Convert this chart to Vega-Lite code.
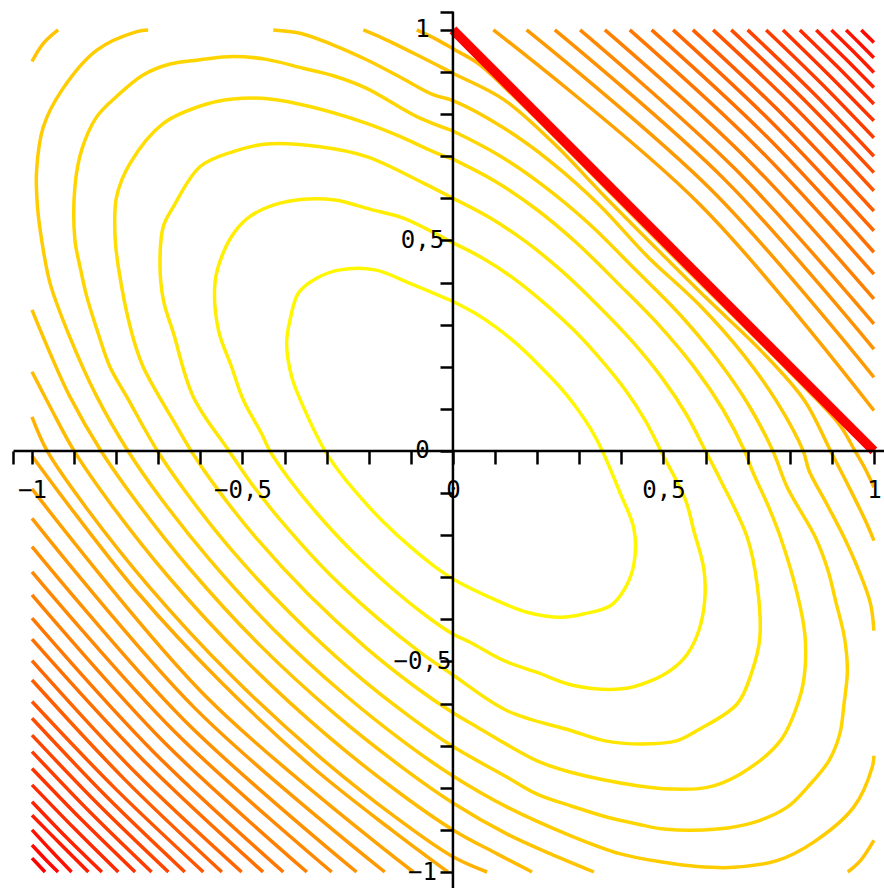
{
"$schema":"https://vega.github.io/schema/vega-lite/v6.json",
"width":884,"height":888,"padding":0,"autosize":{"type":"none"},
"background":"white",
"config":{"view":{"stroke":null}},
"datasets":{
"c":[
{"id":"A","lvl":1,"x":0,"y":0.355},{"id":"A","lvl":1,"x":-0.102,"y":0.398},{"id":"A","lvl":1,"x":-0.185,"y":0.43},{"id":"A","lvl":1,"x":-0.268,"y":0.43},{"id":"A","lvl":1,"x":-0.324,"y":0.41},{"id":"A","lvl":1,"x":-0.367,"y":0.375},{"id":"A","lvl":1,"x":-0.387,"y":0.311},{"id":"A","lvl":1,"x":-0.395,"y":0.256},{"id":"A","lvl":1,"x":-0.383,"y":0.176},{"id":"A","lvl":1,"x":-0.359,"y":0.113},{"id":"A","lvl":1,"x":-0.304,"y":0},{"id":"A","lvl":1,"x":-0.274,"y":-0.044},{"id":"A","lvl":1,"x":-0.228,"y":-0.101},{"id":"A","lvl":1,"x":-0.167,"y":-0.167},{"id":"A","lvl":1,"x":-0.101,"y":-0.228},{"id":"A","lvl":1,"x":-0.044,"y":-0.274},{"id":"A","lvl":1,"x":0,"y":-0.304},{"id":"A","lvl":1,"x":0.113,"y":-0.359},{"id":"A","lvl":1,"x":0.176,"y":-0.383},{"id":"A","lvl":1,"x":0.256,"y":-0.395},{"id":"A","lvl":1,"x":0.311,"y":-0.387},{"id":"A","lvl":1,"x":0.375,"y":-0.367},{"id":"A","lvl":1,"x":0.41,"y":-0.324},{"id":"A","lvl":1,"x":0.43,"y":-0.268},{"id":"A","lvl":1,"x":0.43,"y":-0.185},{"id":"A","lvl":1,"x":0.398,"y":-0.102},{"id":"A","lvl":1,"x":0.355,"y":0},{"id":"A","lvl":1,"x":0.328,"y":0.051},{"id":"A","lvl":1,"x":0.294,"y":0.102},{"id":"A","lvl":1,"x":0.253,"y":0.153},{"id":"A","lvl":1,"x":0.204,"y":0.204},{"id":"A","lvl":1,"x":0.153,"y":0.253},{"id":"A","lvl":1,"x":0.102,"y":0.294},{"id":"A","lvl":1,"x":0.051,"y":0.328},{"id":"A","lvl":1,"x":0,"y":0.355},
{"id":"B","lvl":2,"x":0,"y":0.494},{"id":"B","lvl":2,"x":-0.118,"y":0.553},{"id":"B","lvl":2,"x":-0.189,"y":0.572},{"id":"B","lvl":2,"x":-0.28,"y":0.596},{"id":"B","lvl":2,"x":-0.356,"y":0.598},{"id":"B","lvl":2,"x":-0.427,"y":0.584},{"id":"B","lvl":2,"x":-0.482,"y":0.557},{"id":"B","lvl":2,"x":-0.518,"y":0.521},{"id":"B","lvl":2,"x":-0.546,"y":0.47},{"id":"B","lvl":2,"x":-0.565,"y":0.402},{"id":"B","lvl":2,"x":-0.557,"y":0.287},{"id":"B","lvl":2,"x":-0.526,"y":0.2},{"id":"B","lvl":2,"x":-0.498,"y":0.121},{"id":"B","lvl":2,"x":-0.455,"y":0.042},{"id":"B","lvl":2,"x":-0.435,"y":0},{"id":"B","lvl":2,"x":-0.392,"y":-0.063},{"id":"B","lvl":2,"x":-0.326,"y":-0.145},{"id":"B","lvl":2,"x":-0.239,"y":-0.239},{"id":"B","lvl":2,"x":-0.145,"y":-0.326},{"id":"B","lvl":2,"x":-0.063,"y":-0.392},{"id":"B","lvl":2,"x":0,"y":-0.435},{"id":"B","lvl":2,"x":0.042,"y":-0.455},{"id":"B","lvl":2,"x":0.121,"y":-0.498},{"id":"B","lvl":2,"x":0.2,"y":-0.526},{"id":"B","lvl":2,"x":0.287,"y":-0.557},{"id":"B","lvl":2,"x":0.402,"y":-0.565},{"id":"B","lvl":2,"x":0.47,"y":-0.546},{"id":"B","lvl":2,"x":0.521,"y":-0.518},{"id":"B","lvl":2,"x":0.557,"y":-0.482},{"id":"B","lvl":2,"x":0.584,"y":-0.427},{"id":"B","lvl":2,"x":0.598,"y":-0.356},{"id":"B","lvl":2,"x":0.596,"y":-0.28},{"id":"B","lvl":2,"x":0.572,"y":-0.189},{"id":"B","lvl":2,"x":0.553,"y":-0.118},{"id":"B","lvl":2,"x":0.494,"y":0},{"id":"B","lvl":2,"x":0.457,"y":0.072},{"id":"B","lvl":2,"x":0.41,"y":0.144},{"id":"B","lvl":2,"x":0.353,"y":0.215},{"id":"B","lvl":2,"x":0.287,"y":0.287},{"id":"B","lvl":2,"x":0.215,"y":0.353},{"id":"B","lvl":2,"x":0.144,"y":0.41},{"id":"B","lvl":2,"x":0.072,"y":0.457},{"id":"B","lvl":2,"x":0,"y":0.494},
{"id":"C","lvl":3,"x":0,"y":0.6},{"id":"C","lvl":3,"x":-0.07,"y":0.636},{"id":"C","lvl":3,"x":-0.205,"y":0.699},{"id":"C","lvl":3,"x":-0.32,"y":0.723},{"id":"C","lvl":3,"x":-0.443,"y":0.729},{"id":"C","lvl":3,"x":-0.522,"y":0.711},{"id":"C","lvl":3,"x":-0.601,"y":0.675},{"id":"C","lvl":3,"x":-0.664,"y":0.58},{"id":"C","lvl":3,"x":-0.688,"y":0.533},{"id":"C","lvl":3,"x":-0.696,"y":0.446},{"id":"C","lvl":3,"x":-0.688,"y":0.359},{"id":"C","lvl":3,"x":-0.664,"y":0.28},{"id":"C","lvl":3,"x":-0.617,"y":0.129},{"id":"C","lvl":3,"x":-0.532,"y":0},{"id":"C","lvl":3,"x":-0.479,"y":-0.077},{"id":"C","lvl":3,"x":-0.399,"y":-0.177},{"id":"C","lvl":3,"x":-0.293,"y":-0.293},{"id":"C","lvl":3,"x":-0.177,"y":-0.399},{"id":"C","lvl":3,"x":-0.077,"y":-0.479},{"id":"C","lvl":3,"x":0,"y":-0.532},{"id":"C","lvl":3,"x":0.129,"y":-0.617},{"id":"C","lvl":3,"x":0.28,"y":-0.664},{"id":"C","lvl":3,"x":0.359,"y":-0.688},{"id":"C","lvl":3,"x":0.446,"y":-0.696},{"id":"C","lvl":3,"x":0.533,"y":-0.688},{"id":"C","lvl":3,"x":0.58,"y":-0.664},{"id":"C","lvl":3,"x":0.675,"y":-0.601},{"id":"C","lvl":3,"x":0.711,"y":-0.522},{"id":"C","lvl":3,"x":0.729,"y":-0.443},{"id":"C","lvl":3,"x":0.723,"y":-0.32},{"id":"C","lvl":3,"x":0.699,"y":-0.205},{"id":"C","lvl":3,"x":0.636,"y":-0.07},{"id":"C","lvl":3,"x":0.6,"y":0},{"id":"C","lvl":3,"x":0.555,"y":0.086},{"id":"C","lvl":3,"x":0.497,"y":0.173},{"id":"C","lvl":3,"x":0.427,"y":0.259},{"id":"C","lvl":3,"x":0.345,"y":0.345},{"id":"C","lvl":3,"x":0.259,"y":0.427},{"id":"C","lvl":3,"x":0.173,"y":0.497},{"id":"C","lvl":3,"x":0.086,"y":0.555},{"id":"C","lvl":3,"x":0,"y":0.6},
{"id":"D","lvl":4,"x":0,"y":0.693},{"id":"D","lvl":4,"x":-0.047,"y":0.711},{"id":"D","lvl":4,"x":-0.126,"y":0.747},{"id":"D","lvl":4,"x":-0.205,"y":0.778},{"id":"D","lvl":4,"x":-0.34,"y":0.818},{"id":"D","lvl":4,"x":-0.435,"y":0.836},{"id":"D","lvl":4,"x":-0.522,"y":0.836},{"id":"D","lvl":4,"x":-0.585,"y":0.824},{"id":"D","lvl":4,"x":-0.688,"y":0.778},{"id":"D","lvl":4,"x":-0.767,"y":0.683},{"id":"D","lvl":4,"x":-0.799,"y":0.604},{"id":"D","lvl":4,"x":-0.803,"y":0.517},{"id":"D","lvl":4,"x":-0.795,"y":0.438},{"id":"D","lvl":4,"x":-0.763,"y":0.28},{"id":"D","lvl":4,"x":-0.736,"y":0.2},{"id":"D","lvl":4,"x":-0.656,"y":0.058},{"id":"D","lvl":4,"x":-0.622,"y":0},{"id":"D","lvl":4,"x":-0.56,"y":-0.09},{"id":"D","lvl":4,"x":-0.467,"y":-0.207},{"id":"D","lvl":4,"x":-0.342,"y":-0.342},{"id":"D","lvl":4,"x":-0.207,"y":-0.467},{"id":"D","lvl":4,"x":-0.09,"y":-0.56},{"id":"D","lvl":4,"x":0,"y":-0.622},{"id":"D","lvl":4,"x":0.058,"y":-0.656},{"id":"D","lvl":4,"x":0.2,"y":-0.736},{"id":"D","lvl":4,"x":0.28,"y":-0.763},{"id":"D","lvl":4,"x":0.438,"y":-0.795},{"id":"D","lvl":4,"x":0.517,"y":-0.803},{"id":"D","lvl":4,"x":0.604,"y":-0.799},{"id":"D","lvl":4,"x":0.683,"y":-0.767},{"id":"D","lvl":4,"x":0.778,"y":-0.688},{"id":"D","lvl":4,"x":0.824,"y":-0.585},{"id":"D","lvl":4,"x":0.836,"y":-0.522},{"id":"D","lvl":4,"x":0.836,"y":-0.435},{"id":"D","lvl":4,"x":0.818,"y":-0.34},{"id":"D","lvl":4,"x":0.778,"y":-0.205},{"id":"D","lvl":4,"x":0.747,"y":-0.126},{"id":"D","lvl":4,"x":0.711,"y":-0.047},{"id":"D","lvl":4,"x":0.693,"y":0},{"id":"D","lvl":4,"x":0.641,"y":0.099},{"id":"D","lvl":4,"x":0.574,"y":0.198},{"id":"D","lvl":4,"x":0.492,"y":0.296},{"id":"D","lvl":4,"x":0.395,"y":0.395},{"id":"D","lvl":4,"x":0.296,"y":0.492},{"id":"D","lvl":4,"x":0.198,"y":0.574},{"id":"D","lvl":4,"x":0.099,"y":0.641},{"id":"D","lvl":4,"x":0,"y":0.693},
{"id":"E","lvl":5,"x":0,"y":0.76},{"id":"E","lvl":5,"x":-0.086,"y":0.794},{"id":"E","lvl":5,"x":-0.205,"y":0.861},{"id":"E","lvl":5,"x":-0.284,"y":0.891},{"id":"E","lvl":5,"x":-0.356,"y":0.909},{"id":"E","lvl":5,"x":-0.443,"y":0.93},{"id":"E","lvl":5,"x":-0.522,"y":0.937},{"id":"E","lvl":5,"x":-0.601,"y":0.929},{"id":"E","lvl":5,"x":-0.672,"y":0.919},{"id":"E","lvl":5,"x":-0.736,"y":0.893},{"id":"E","lvl":5,"x":-0.799,"y":0.842},{"id":"E","lvl":5,"x":-0.846,"y":0.794},{"id":"E","lvl":5,"x":-0.882,"y":0.715},{"id":"E","lvl":5,"x":-0.898,"y":0.628},{"id":"E","lvl":5,"x":-0.898,"y":0.501},{"id":"E","lvl":5,"x":-0.886,"y":0.438},{"id":"E","lvl":5,"x":-0.87,"y":0.367},{"id":"E","lvl":5,"x":-0.843,"y":0.28},{"id":"E","lvl":5,"x":-0.815,"y":0.2},{"id":"E","lvl":5,"x":-0.775,"y":0.129},{"id":"E","lvl":5,"x":-0.702,"y":0},{"id":"E","lvl":5,"x":-0.632,"y":-0.101},{"id":"E","lvl":5,"x":-0.527,"y":-0.234},{"id":"E","lvl":5,"x":-0.386,"y":-0.386},{"id":"E","lvl":5,"x":-0.234,"y":-0.527},{"id":"E","lvl":5,"x":-0.101,"y":-0.632},{"id":"E","lvl":5,"x":0,"y":-0.702},{"id":"E","lvl":5,"x":0.129,"y":-0.775},{"id":"E","lvl":5,"x":0.2,"y":-0.815},{"id":"E","lvl":5,"x":0.28,"y":-0.843},{"id":"E","lvl":5,"x":0.367,"y":-0.87},{"id":"E","lvl":5,"x":0.438,"y":-0.886},{"id":"E","lvl":5,"x":0.501,"y":-0.898},{"id":"E","lvl":5,"x":0.628,"y":-0.898},{"id":"E","lvl":5,"x":0.715,"y":-0.882},{"id":"E","lvl":5,"x":0.794,"y":-0.846},{"id":"E","lvl":5,"x":0.842,"y":-0.799},{"id":"E","lvl":5,"x":0.893,"y":-0.736},{"id":"E","lvl":5,"x":0.919,"y":-0.672},{"id":"E","lvl":5,"x":0.929,"y":-0.601},{"id":"E","lvl":5,"x":0.937,"y":-0.522},{"id":"E","lvl":5,"x":0.93,"y":-0.443},{"id":"E","lvl":5,"x":0.909,"y":-0.356},{"id":"E","lvl":5,"x":0.891,"y":-0.284},{"id":"E","lvl":5,"x":0.861,"y":-0.205},{"id":"E","lvl":5,"x":0.794,"y":-0.086},{"id":"E","lvl":5,"x":0.76,"y":0},{"id":"E","lvl":5,"x":0.703,"y":0.108},{"id":"E","lvl":5,"x":0.629,"y":0.216},{"id":"E","lvl":5,"x":0.539,"y":0.324},{"id":"E","lvl":5,"x":0.432,"y":0.432},{"id":"E","lvl":5,"x":0.324,"y":0.539},{"id":"E","lvl":5,"x":0.216,"y":0.629},{"id":"E","lvl":5,"x":0.108,"y":0.703},{"id":"E","lvl":5,"x":0,"y":0.76},
{"id":"F1","lvl":6,"x":-0.427,"y":1},{"id":"F1","lvl":6,"x":-0.363,"y":0.992},{"id":"F1","lvl":6,"x":-0.284,"y":0.964},{"id":"F1","lvl":6,"x":-0.205,"y":0.929},{"id":"F1","lvl":6,"x":-0.126,"y":0.888},{"id":"F1","lvl":6,"x":-0.047,"y":0.846},{"id":"F1","lvl":6,"x":0,"y":0.832},{"id":"F1","lvl":6,"x":0.116,"y":0.77},{"id":"F1","lvl":6,"x":0.231,"y":0.688},{"id":"F1","lvl":6,"x":0.347,"y":0.585},{"id":"F1","lvl":6,"x":0.462,"y":0.462},{"id":"F1","lvl":6,"x":0.585,"y":0.347},{"id":"F1","lvl":6,"x":0.688,"y":0.231},{"id":"F1","lvl":6,"x":0.77,"y":0.116},{"id":"F1","lvl":6,"x":0.832,"y":0},{"id":"F1","lvl":6,"x":0.846,"y":-0.047},{"id":"F1","lvl":6,"x":0.888,"y":-0.126},{"id":"F1","lvl":6,"x":0.929,"y":-0.205},{"id":"F1","lvl":6,"x":0.964,"y":-0.284},{"id":"F1","lvl":6,"x":0.992,"y":-0.363},{"id":"F1","lvl":6,"x":1,"y":-0.427},
{"id":"F2","lvl":6,"x":-0.724,"y":1},{"id":"F2","lvl":6,"x":-0.751,"y":0.996},{"id":"F2","lvl":6,"x":-0.846,"y":0.952},{"id":"F2","lvl":6,"x":-0.929,"y":0.857},{"id":"F2","lvl":6,"x":-0.973,"y":0.77},{"id":"F2","lvl":6,"x":-0.989,"y":0.667},{"id":"F2","lvl":6,"x":-0.987,"y":0.58},{"id":"F2","lvl":6,"x":-0.977,"y":0.501},{"id":"F2","lvl":6,"x":-0.957,"y":0.398},{"id":"F2","lvl":6,"x":-0.914,"y":0.28},{"id":"F2","lvl":6,"x":-0.846,"y":0.129},{"id":"F2","lvl":6,"x":-0.772,"y":0},{"id":"F2","lvl":6,"x":-0.695,"y":-0.111},{"id":"F2","lvl":6,"x":-0.579,"y":-0.257},{"id":"F2","lvl":6,"x":-0.425,"y":-0.425},{"id":"F2","lvl":6,"x":-0.257,"y":-0.579},{"id":"F2","lvl":6,"x":-0.111,"y":-0.695},{"id":"F2","lvl":6,"x":0,"y":-0.772},{"id":"F2","lvl":6,"x":0.129,"y":-0.846},{"id":"F2","lvl":6,"x":0.28,"y":-0.914},{"id":"F2","lvl":6,"x":0.398,"y":-0.957},{"id":"F2","lvl":6,"x":0.501,"y":-0.977},{"id":"F2","lvl":6,"x":0.58,"y":-0.987},{"id":"F2","lvl":6,"x":0.667,"y":-0.989},{"id":"F2","lvl":6,"x":0.77,"y":-0.973},{"id":"F2","lvl":6,"x":0.857,"y":-0.929},{"id":"F2","lvl":6,"x":0.952,"y":-0.846},{"id":"F2","lvl":6,"x":0.996,"y":-0.751},{"id":"F2","lvl":6,"x":1,"y":-0.724},
{"id":"G1","lvl":7,"x":-0.213,"y":1},{"id":"G1","lvl":7,"x":-0.166,"y":0.98},{"id":"G1","lvl":7,"x":-0.086,"y":0.941},{"id":"G1","lvl":7,"x":0,"y":0.897},{"id":"G1","lvl":7,"x":0.12,"y":0.835},{"id":"G1","lvl":7,"x":0.24,"y":0.73},{"id":"G1","lvl":7,"x":0.36,"y":0.605},{"id":"G1","lvl":7,"x":0.482,"y":0.482},{"id":"G1","lvl":7,"x":0.605,"y":0.36},{"id":"G1","lvl":7,"x":0.73,"y":0.24},{"id":"G1","lvl":7,"x":0.835,"y":0.12},{"id":"G1","lvl":7,"x":0.897,"y":0},{"id":"G1","lvl":7,"x":0.941,"y":-0.086},{"id":"G1","lvl":7,"x":0.98,"y":-0.166},{"id":"G1","lvl":7,"x":1,"y":-0.213},
{"id":"G2","lvl":7,"x":-0.938,"y":1},{"id":"G2","lvl":7,"x":-0.973,"y":0.968},{"id":"G2","lvl":7,"x":-1,"y":0.925},
{"id":"G3","lvl":7,"x":-1,"y":0.335},{"id":"G3","lvl":7,"x":-0.957,"y":0.232},{"id":"G3","lvl":7,"x":-0.91,"y":0.129},{"id":"G3","lvl":7,"x":-0.836,"y":0},{"id":"G3","lvl":7,"x":-0.752,"y":-0.12},{"id":"G3","lvl":7,"x":-0.627,"y":-0.278},{"id":"G3","lvl":7,"x":-0.46,"y":-0.46},{"id":"G3","lvl":7,"x":-0.278,"y":-0.627},{"id":"G3","lvl":7,"x":-0.12,"y":-0.752},{"id":"G3","lvl":7,"x":0,"y":-0.836},{"id":"G3","lvl":7,"x":0.129,"y":-0.91},{"id":"G3","lvl":7,"x":0.232,"y":-0.957},{"id":"G3","lvl":7,"x":0.335,"y":-1},
{"id":"G4","lvl":7,"x":1,"y":-0.925},{"id":"G4","lvl":7,"x":0.968,"y":-0.973},{"id":"G4","lvl":7,"x":0.938,"y":-1},
{"id":"H1","lvl":8,"x":-0.086,"y":1},{"id":"H1","lvl":8,"x":-0.04,"y":0.978},{"id":"H1","lvl":8,"x":0,"y":0.955},{"id":"H1","lvl":8,"x":0.06,"y":0.92},{"id":"H1","lvl":8,"x":0.15,"y":0.837},{"id":"H1","lvl":8,"x":0.3,"y":0.688},{"id":"H1","lvl":8,"x":0.493,"y":0.493},{"id":"H1","lvl":8,"x":0.688,"y":0.3},{"id":"H1","lvl":8,"x":0.837,"y":0.15},{"id":"H1","lvl":8,"x":0.92,"y":0.06},{"id":"H1","lvl":8,"x":0.955,"y":0},{"id":"H1","lvl":8,"x":0.978,"y":-0.04},{"id":"H1","lvl":8,"x":1,"y":-0.086},
{"id":"H2","lvl":8,"x":-1,"y":0.188},{"id":"H2","lvl":8,"x":-0.957,"y":0.105},{"id":"H2","lvl":8,"x":-0.9,"y":0},{"id":"H2","lvl":8,"x":-0.81,"y":-0.13},{"id":"H2","lvl":8,"x":-0.675,"y":-0.3},{"id":"H2","lvl":8,"x":-0.495,"y":-0.495},{"id":"H2","lvl":8,"x":-0.3,"y":-0.675},{"id":"H2","lvl":8,"x":-0.13,"y":-0.81},{"id":"H2","lvl":8,"x":0,"y":-0.9},{"id":"H2","lvl":8,"x":0.105,"y":-0.957},{"id":"H2","lvl":8,"x":0.188,"y":-1},
{"id":"I","lvl":9,"x":-1,"y":0.081},{"id":"I","lvl":9,"x":-0.964,"y":0},{"id":"I","lvl":9,"x":-0.868,"y":-0.139},{"id":"I","lvl":9,"x":-0.723,"y":-0.321},{"id":"I","lvl":9,"x":-0.53,"y":-0.53},{"id":"I","lvl":9,"x":-0.321,"y":-0.723},{"id":"I","lvl":9,"x":-0.139,"y":-0.868},{"id":"I","lvl":9,"x":0,"y":-0.964},{"id":"I","lvl":9,"x":0.081,"y":-1},
{"id":"J","lvl":10,"x":-1,"y":-0.012},{"id":"J","lvl":10,"x":-0.9,"y":-0.146},{"id":"J","lvl":10,"x":-0.75,"y":-0.335},{"id":"J","lvl":10,"x":-0.55,"y":-0.55},{"id":"J","lvl":10,"x":-0.335,"y":-0.75},{"id":"J","lvl":10,"x":-0.146,"y":-0.9},{"id":"J","lvl":10,"x":-0.012,"y":-1},
{"id":"K1","lvl":11,"x":-1,"y":-0.09},{"id":"K1","lvl":11,"x":-0.585,"y":-0.585},{"id":"K1","lvl":11,"x":-0.094,"y":-1},
{"id":"K2","lvl":12,"x":-1,"y":-0.16},{"id":"K2","lvl":12,"x":-0.612,"y":-0.612},{"id":"K2","lvl":12,"x":-0.162,"y":-1},
{"id":"K3","lvl":13,"x":-1,"y":-0.227},{"id":"K3","lvl":13,"x":-0.639,"y":-0.639},{"id":"K3","lvl":13,"x":-0.229,"y":-1},
{"id":"K4","lvl":14,"x":-1,"y":-0.287},{"id":"K4","lvl":14,"x":-0.664,"y":-0.664},{"id":"K4","lvl":14,"x":-0.288,"y":-1},
{"id":"K5","lvl":15,"x":-1,"y":-0.342},{"id":"K5","lvl":15,"x":-0.689,"y":-0.689},{"id":"K5","lvl":15,"x":-0.347,"y":-1},
{"id":"K6","lvl":16,"x":-1,"y":-0.397},{"id":"K6","lvl":16,"x":-0.713,"y":-0.713},{"id":"K6","lvl":16,"x":-0.403,"y":-1},
{"id":"K7","lvl":17,"x":-1,"y":-0.447},{"id":"K7","lvl":17,"x":-0.735,"y":-0.735},{"id":"K7","lvl":17,"x":-0.451,"y":-1},
{"id":"K8","lvl":18,"x":-1,"y":-0.498},{"id":"K8","lvl":18,"x":-0.759,"y":-0.759},{"id":"K8","lvl":18,"x":-0.502,"y":-1},
{"id":"K9","lvl":19,"x":-1,"y":-0.544},{"id":"K9","lvl":19,"x":-0.78,"y":-0.78},{"id":"K9","lvl":19,"x":-0.549,"y":-1},
{"id":"K10","lvl":20,"x":-1,"y":-0.595},{"id":"K10","lvl":20,"x":-0.802,"y":-0.802},{"id":"K10","lvl":20,"x":-0.593,"y":-1},
{"id":"K11","lvl":21,"x":-1,"y":-0.635},{"id":"K11","lvl":21,"x":-0.822,"y":-0.822},{"id":"K11","lvl":21,"x":-0.637,"y":-1},
{"id":"K12","lvl":22,"x":-1,"y":-0.675},{"id":"K12","lvl":22,"x":-0.841,"y":-0.841},{"id":"K12","lvl":22,"x":-0.676,"y":-1},
{"id":"K13","lvl":23,"x":-1,"y":-0.714},{"id":"K13","lvl":23,"x":-0.86,"y":-0.86},{"id":"K13","lvl":23,"x":-0.716,"y":-1},
{"id":"K14","lvl":24,"x":-1,"y":-0.754},{"id":"K14","lvl":24,"x":-0.879,"y":-0.879},{"id":"K14","lvl":24,"x":-0.755,"y":-1},
{"id":"K15","lvl":25,"x":-1,"y":-0.793},{"id":"K15","lvl":25,"x":-0.898,"y":-0.898},{"id":"K15","lvl":25,"x":-0.795,"y":-1},
{"id":"K16","lvl":26,"x":-1,"y":-0.833},{"id":"K16","lvl":26,"x":-0.918,"y":-0.918},{"id":"K16","lvl":26,"x":-0.834,"y":-1},
{"id":"K17","lvl":27,"x":-1,"y":-0.865},{"id":"K17","lvl":27,"x":-0.933,"y":-0.933},{"id":"K17","lvl":27,"x":-0.866,"y":-1},
{"id":"K18","lvl":28,"x":-1,"y":-0.9},{"id":"K18","lvl":28,"x":-0.952,"y":-0.952},{"id":"K18","lvl":28,"x":-0.906,"y":-1},
{"id":"K19","lvl":29,"x":-1,"y":-0.936},{"id":"K19","lvl":29,"x":-0.969,"y":-0.969},{"id":"K19","lvl":29,"x":-0.938,"y":-1},
{"id":"K20","lvl":30,"x":-1,"y":-0.967},{"id":"K20","lvl":30,"x":-0.984,"y":-0.984},{"id":"K20","lvl":30,"x":-0.969,"y":-1},
{"id":"U1","lvl":11,"x":0.096,"y":1},{"id":"U1","lvl":11,"x":0.586,"y":0.586},{"id":"U1","lvl":11,"x":1,"y":0.096},
{"id":"U2","lvl":12,"x":0.175,"y":1},{"id":"U2","lvl":12,"x":0.617,"y":0.617},{"id":"U2","lvl":12,"x":1,"y":0.175},
{"id":"U3","lvl":13,"x":0.242,"y":1},{"id":"U3","lvl":13,"x":0.645,"y":0.645},{"id":"U3","lvl":13,"x":1,"y":0.242},
{"id":"U4","lvl":14,"x":0.302,"y":1},{"id":"U4","lvl":14,"x":0.67,"y":0.67},{"id":"U4","lvl":14,"x":1,"y":0.302},
{"id":"U5","lvl":15,"x":0.361,"y":1},{"id":"U5","lvl":15,"x":0.696,"y":0.696},{"id":"U5","lvl":15,"x":1,"y":0.361},
{"id":"U6","lvl":16,"x":0.42,"y":1},{"id":"U6","lvl":16,"x":0.722,"y":0.722},{"id":"U6","lvl":16,"x":1,"y":0.42},
{"id":"U7","lvl":17,"x":0.472,"y":1},{"id":"U7","lvl":17,"x":0.746,"y":0.746},{"id":"U7","lvl":17,"x":1,"y":0.472},
{"id":"U8","lvl":18,"x":0.523,"y":1},{"id":"U8","lvl":18,"x":0.769,"y":0.769},{"id":"U8","lvl":18,"x":1,"y":0.523},
{"id":"U9","lvl":19,"x":0.57,"y":1},{"id":"U9","lvl":19,"x":0.791,"y":0.791},{"id":"U9","lvl":19,"x":1,"y":0.57},
{"id":"U10","lvl":20,"x":0.618,"y":1},{"id":"U10","lvl":20,"x":0.814,"y":0.814},{"id":"U10","lvl":20,"x":1,"y":0.618},
{"id":"U11","lvl":21,"x":0.661,"y":1},{"id":"U11","lvl":21,"x":0.834,"y":0.834},{"id":"U11","lvl":21,"x":1,"y":0.661},
{"id":"U12","lvl":22,"x":0.7,"y":1},{"id":"U12","lvl":22,"x":0.853,"y":0.853},{"id":"U12","lvl":22,"x":1,"y":0.7},
{"id":"U13","lvl":23,"x":0.744,"y":1},{"id":"U13","lvl":23,"x":0.874,"y":0.874},{"id":"U13","lvl":23,"x":1,"y":0.744},
{"id":"U14","lvl":24,"x":0.784,"y":1},{"id":"U14","lvl":24,"x":0.893,"y":0.893},{"id":"U14","lvl":24,"x":1,"y":0.784},
{"id":"U15","lvl":25,"x":0.824,"y":1},{"id":"U15","lvl":25,"x":0.913,"y":0.913},{"id":"U15","lvl":25,"x":1,"y":0.824},
{"id":"U16","lvl":26,"x":0.863,"y":1},{"id":"U16","lvl":26,"x":0.932,"y":0.932},{"id":"U16","lvl":26,"x":1,"y":0.863},
{"id":"U17","lvl":27,"x":0.899,"y":1},{"id":"U17","lvl":27,"x":0.95,"y":0.95},{"id":"U17","lvl":27,"x":1,"y":0.899},
{"id":"U18","lvl":28,"x":0.934,"y":1},{"id":"U18","lvl":28,"x":0.967,"y":0.967},{"id":"U18","lvl":28,"x":1,"y":0.934},
{"id":"U19","lvl":29,"x":0.97,"y":1},{"id":"U19","lvl":29,"x":0.985,"y":0.985},{"id":"U19","lvl":29,"x":1,"y":0.97}
],
"r":[{"x":0,"y":1},{"x":0.25,"y":0.75},{"x":0.5,"y":0.5},{"x":0.75,"y":0.25},{"x":1,"y":0}],
"ax":[{"x1":-1.044,"x2":1.024,"y1":0,"y2":0},{"x1":0,"x2":0,"y1":-1.038,"y2":1.043}]
},
"layer":[
{"data":{"name":"c"},
 "mark":{"type":"line","interpolate":"catmull-rom","strokeWidth":3.5,"clip":true},
 "encoding":{
  "x":{"field":"x","type":"quantitative","title":null,"scale":{"domain":[-1.076,1.024],"nice":false,"zero":false},
   "axis":{"orient":"bottom","offset":-437,"values":[-1.044,-1,-0.9,-0.8,-0.7,-0.6,-0.5,-0.4,-0.3,-0.2,-0.1,0,0.1,0.2,0.3,0.4,0.5,0.6,0.7,0.8,0.9,1],
    "labelExpr":"abs(datum.value*2-round(datum.value*2))<0.01 ? replace(format(datum.value,'~g'),'.',',') : ''",
    "title":null,"domain":false,"grid":false,"tickSize":13,"tickWidth":2.5,"tickColor":"#000000",
    "labelFont":"DejaVu Sans Mono","labelFontSize":24,"labelColor":"#000000","labelPadding":14,
    "labelFlush":false,"labelOverlap":false,"labelBound":false,"zindex":1}},
  "y":{"field":"y","type":"quantitative","title":null,"scale":{"domain":[-1.038,1.071],"nice":false,"zero":false},
   "axis":{"orient":"left","offset":-453,"values":[-1,-0.9,-0.8,-0.7,-0.6,-0.5,-0.4,-0.3,-0.2,-0.1,0,0.1,0.2,0.3,0.4,0.5,0.6,0.7,0.8,0.9,1,1.043],
    "labelExpr":"abs(datum.value*2-round(datum.value*2))<0.01 ? replace(format(datum.value,'~g'),'.',',') : ''",
    "title":null,"domain":false,"grid":false,"tickSize":13,"tickWidth":2.5,"tickColor":"#000000",
    "labelFont":"DejaVu Sans Mono","labelFontSize":24,"labelColor":"#000000","labelPadding":18,"labelAlign":"center",
    "labelFlush":false,"labelOverlap":false,"labelBound":false,"zindex":1}},
  "detail":{"field":"id","type":"nominal"},
  "order":{"value":null},
  "color":{"field":"lvl","type":"quantitative","scale":{"domain":[0,30],"range":["#ffff00","#ff0000"],"interpolate":"rgb"},"legend":null}
 }},
{"data":{"name":"r"},
 "mark":{"type":"line","color":"#ff0000","strokeWidth":9.5,"clip":true},
 "encoding":{
  "x":{"field":"x","type":"quantitative","title":null,"scale":{"domain":[-1.076,1.024],"nice":false,"zero":false}},
  "y":{"field":"y","type":"quantitative","title":null,"scale":{"domain":[-1.038,1.071],"nice":false,"zero":false}},
  "order":{"value":null}
 }},
{"data":{"name":"ax"},
 "mark":{"type":"rule","color":"#000000","strokeWidth":2.5},
 "encoding":{
  "x":{"field":"x1","type":"quantitative","title":null,"scale":{"domain":[-1.076,1.024],"nice":false,"zero":false}},
  "x2":{"field":"x2"},
  "y":{"field":"y1","type":"quantitative","title":null,"scale":{"domain":[-1.038,1.071],"nice":false,"zero":false}},
  "y2":{"field":"y2"}
 }}
]
}
